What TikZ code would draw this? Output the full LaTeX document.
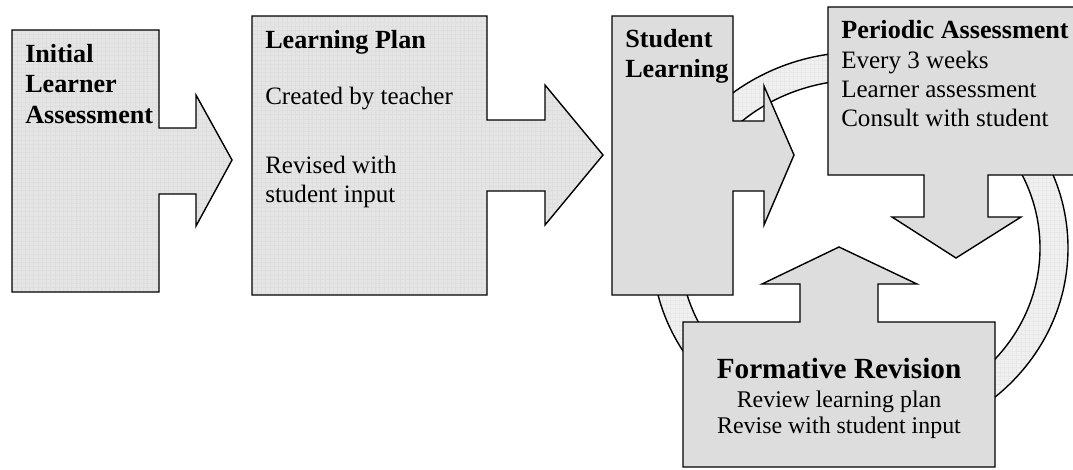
\documentclass[tikz,border=0pt]{standalone}
\usepackage{fontspec}
\setmainfont{Liberation Serif}
\usetikzlibrary{patterns}
\definecolor{boxgray}{gray}{0.865}
\definecolor{gridgray}{gray}{0.90}
\definecolor{ringgray}{gray}{0.94}
\tikzset{
	plainbox/.style={draw=black, line width=0.35mm, line join=miter, fill=boxgray},
	gridbox/.style={draw=black, line width=0.35mm, line join=miter, preaction={fill=gridgray}, pattern=grid, pattern color=black!13},
	ringband/.style={draw=black, line width=0.35mm, preaction={fill=ringgray, even odd rule}, pattern=grid, pattern color=black!9},
	headtext/.style={anchor=base west, font=\fontsize{18.6}{21.6}\selectfont\bfseries, align=left, inner sep=0pt},
	bodytext/.style={anchor=base west, font=\fontsize{17.8}{20.8}\selectfont, align=left, inner sep=0pt}
}

\begin{document}
\begin{tikzpicture}[x=0.025cm, y=-0.025cm]
		%%%%% START %%%%%
		\useasboundingbox (0, 0) rectangle (1073, 469);
		
		% ring behind the cycle
		\draw[ringband, even odd rule] (860, 248) ellipse [x radius=208, y radius=196]
			(860, 248) ellipse [x radius=180, y radius=168];
		
		% initial assessment
		\draw[gridbox] (12, 30) -- (159, 30) -- (159, 128) -- (196, 128) -- (196, 95) -- (232, 160)
			-- (196, 226) -- (196, 194) -- (159, 194) -- (159, 292) -- (12, 292) -- cycle;
		\node[headtext] (initial) at (25, 62) {Initial};
		\node[headtext] (learner) at (25, 92) {Learner};
		\node[headtext] (assess) at (25, 123) {Assessment};
		
		% learning plan
		\draw[gridbox] (252, 16) -- (487, 16) -- (487, 120) -- (545, 120) -- (545, 85) -- (603, 155)
			-- (545, 225) -- (545, 191) -- (487, 191) -- (487, 295) -- (252, 295) -- cycle;
		\node[headtext] (plan) at (265, 48) {Learning Plan};
		\node[bodytext] (created) at (265, 104) {Created by teacher};
		\node[bodytext] (revised) at (265, 173) {Revised with};
		\node[bodytext] (input) at (265, 202) {student input};
		
		% student learning
		\draw[plainbox] (612, 16) -- (733, 16) -- (733, 121) -- (764, 121) -- (764, 86) -- (794, 155)
			-- (764, 225) -- (764, 191) -- (733, 191) -- (733, 295) -- (612, 295) -- cycle;
		\node[headtext] (student) at (625, 47) {Student};
		\node[headtext] (learning) at (625, 77) {Learning};
		
		% periodic assessment
		\draw[plainbox] (828, 7) -- (1090, 7) -- (1090, 175) -- (988, 175) -- (988, 217) -- (1021, 217)
			-- (956, 258) -- (892, 217) -- (924, 217) -- (924, 175) -- (828, 175) -- cycle;
		\node[headtext] (periodic) at (841, 38) {Periodic Assessment};
		\node[bodytext] (every) at (841, 68) {Every 3 weeks};
		\node[bodytext] (learnass) at (841, 97) {Learner assessment};
		\node[bodytext] (consult) at (841, 126) {Consult with student};
		
		% formative revision
		\draw[plainbox] (683, 467) -- (683, 322) -- (800, 322) -- (800, 284) -- (762, 284) -- (839, 247)
			-- (917, 284) -- (878, 284) -- (878, 322) -- (995, 322) -- (995, 467) -- cycle;
		\node[headtext, anchor=base, font=\fontsize{20.8}{24}\selectfont\bfseries] (formative) at (839, 378) {Formative Revision};
		\node[bodytext, anchor=base, font=\fontsize{17}{19}\selectfont] (review) at (839, 407) {Review learning plan};
		\node[bodytext, anchor=base, font=\fontsize{17}{19}\selectfont] (revise) at (839, 433) {Revise with student input};
		
		%%%%% END %%%%%
	\end{tikzpicture}
\end{document}
